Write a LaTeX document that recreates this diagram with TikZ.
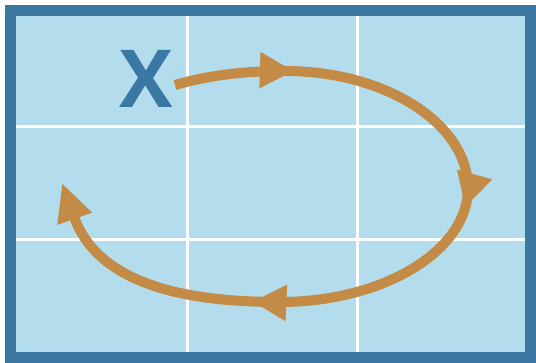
\documentclass[tikz,border=0pt]{standalone}
\usepackage{fontspec}
\setsansfont{Open Sans}
\usetikzlibrary{arrows.meta,decorations.markings}
\definecolor{frameblue}{HTML}{3B77A3}
\definecolor{paneblue}{HTML}{B3DCEC}
\definecolor{looporange}{HTML}{C38B45}
\tikzset{
  gridline/.style={white, line width=3pt},
  framebox/.style={draw=frameblue, line width=11pt},
  loopline/.style={draw=looporange, line width=10pt, -{Triangle[length=38pt, width=34pt]}},
  midtips/.style={postaction={decorate, decoration={markings,
    mark=at position 0.14 with {\arrow[looporange]{Triangle[length=34pt, width=34pt]}},
    mark=at position 0.43 with {\arrow[looporange]{Triangle[length=34pt, width=34pt]}},
    mark=at position 0.72 with {\arrow[looporange]{Triangle[length=34pt, width=34pt]}}}}},
  bigletter/.style={font=\sffamily\bfseries\fontsize{80}{80}\selectfont, text=frameblue, inner sep=0pt}
}

\begin{document}
\begin{tikzpicture}[x=1pt, y=-1pt]
  \useasboundingbox (0,0) rectangle (536,363);
  % pane and window grid
  \fill[paneblue] (10.5,10.5) rectangle (530.5,357.5);
  \draw[gridline] (187,16) -- (187,352);
  \draw[gridline] (357,16) -- (357,352);
  \draw[gridline] (16,127) -- (525,127);
  \draw[gridline] (16,240) -- (525,240);
  \draw[framebox] (10.5,10.5) rectangle (530.5,357.5);

  \node[bigletter] (xlabel) at (146,79) {X};
  \coordinate (loopstart) at (175,85);
  \coordinate (looptop) at (285,71);
  \coordinate (loopright) at (468,188);
  \coordinate (loopbottom) at (280,302);
  \coordinate (loopend) at (62,183);

  % the loop with its three inner tips
  \draw[loopline, midtips] (loopstart)
    .. controls (210,75) and (245,71) .. (looptop)
    .. controls (386,71) and (468,124) .. (loopright)
    .. controls (468,251) and (383,302) .. (loopbottom)
    .. controls (200,302) and (100,290) .. (loopend);
\end{tikzpicture}
\end{document}
